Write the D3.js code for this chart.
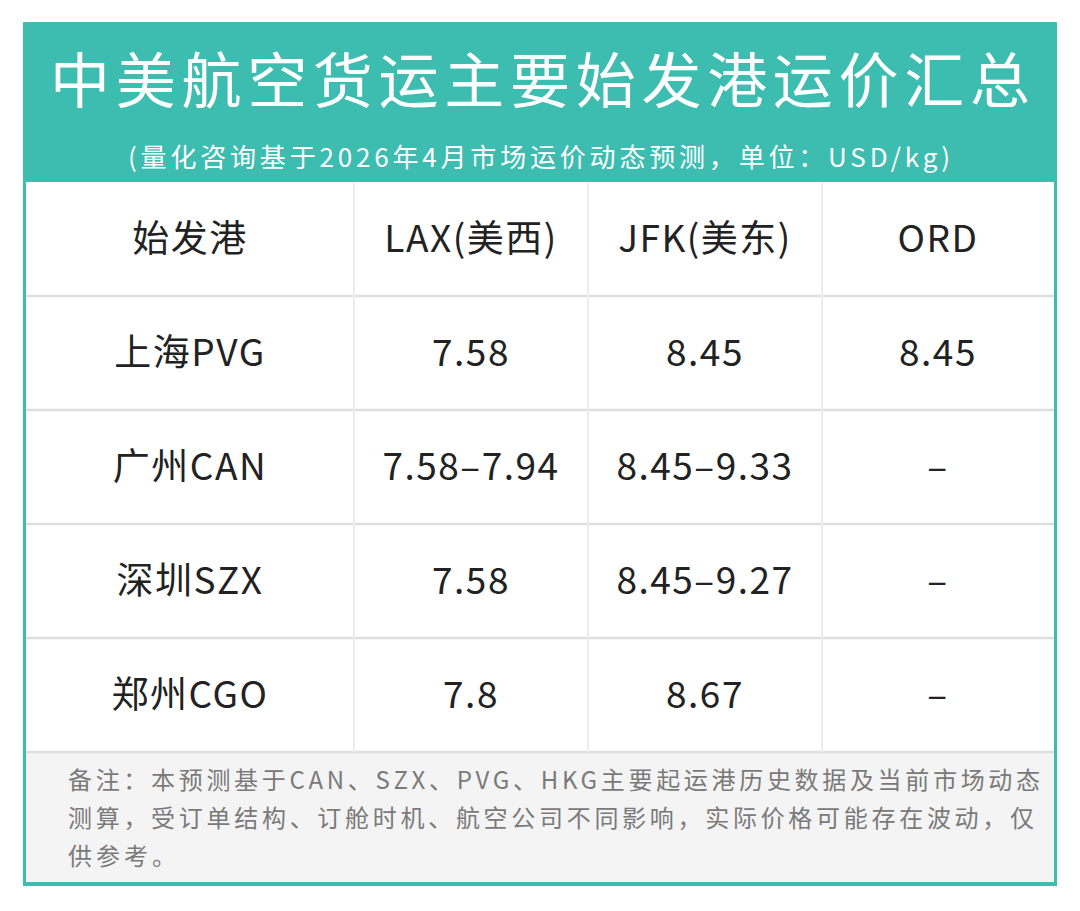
<!DOCTYPE html>
<html><head><meta charset="utf-8">
<script src="https://cdn.jsdelivr.net/npm/d3@7/dist/d3.min.js"></script>
<style>body{margin:0;background:#fff}svg{display:block}</style>
</head><body>
<script>
const title = "中美航空货运主要始发港运价汇总";
const subtitle = "(量化咨询基于2026年4月市场运价动态预测，单位：USD/kg)";
const columns = ["始发港", "LAX(美西)", "JFK(美东)", "ORD"];
const origins = ["上海PVG", "广州CAN", "深圳SZX", "郑州CGO"];
const lax = ["7.58", "7.58–7.94", "7.58", "7.8"];
const jfk = ["8.45", "8.45–9.33", "8.45–9.27", "8.67"];
const ord = ["8.45", "–", "–", "–"];
const noteLines = [
  "备注：本预测基于CAN、SZX、PVG、HKG主要起运港历史数据及当前市场动态",
  "测算，受订单结构、订舱时机、航空公司不同影响，实际价格可能存在波动，仅",
  "供参考。"
];

const W = 1080, H = 911, teal = "#3dbdb0";
const font = "'Noto Sans CJK SC','Noto Sans',sans-serif";
const L = 23, R = 1057, T = 22, B = 886, headB = 182, tableB = 752;
const svg = d3.select("body").append("svg").attr("width", W).attr("height", H);

svg.append("rect").attr("x", L).attr("y", T).attr("width", R - L).attr("height", B - T).attr("fill", teal);
svg.append("rect").attr("x", L + 3).attr("y", headB).attr("width", R - L - 6).attr("height", tableB - headB).attr("fill", "#fff");
svg.append("rect").attr("x", L + 3).attr("y", tableB).attr("width", R - L - 6).attr("height", B - 4 - tableB).attr("fill", "#f4f4f4");

svg.append("text").attr("x", 50).attr("y", 103)
  .attr("fill", "#fff").attr("font-family", font).attr("font-size", 60)
  .attr("textLength", 980).attr("lengthAdjust", "spacing").text(title);
svg.append("text").attr("x", 128).attr("y", 167)
  .attr("fill", "#fff").attr("font-family", font).attr("font-size", 26)
  .attr("textLength", 822).attr("lengthAdjust", "spacing").text(subtitle);

const colEdges = [L + 3, 354, 588, 822, R - 3];
const colCenter = i => (colEdges[i] + colEdges[i + 1]) / 2;
const rows = ["header", ...origins];
const y = d3.scaleBand().domain(rows).range([headB, tableB]);

const g = svg.append("g");
rows.forEach((r, i) => {
  const yy = y(r) + y.bandwidth();
  g.append("line").attr("x1", L + 3).attr("x2", R - 3).attr("y1", yy).attr("y2", yy)
    .attr("stroke", "#dedede").attr("stroke-width", 2.5);
});
colEdges.slice(1, 4).forEach(xx => {
  g.append("line").attr("x1", xx).attr("x2", xx).attr("y1", headB).attr("y2", tableB)
    .attr("stroke", "#ececec").attr("stroke-width", 2);
});

const table = [columns].concat(origins.map((o, i) => [o, lax[i], jfk[i], ord[i]]));
table.forEach((row, ri) => {
  row.forEach((cell, ci) => {
    g.append("text").attr("x", colCenter(ci)).attr("y", y(rows[ri]) + y.bandwidth() / 2 + 13)
      .attr("text-anchor", "middle").attr("fill", "#222").attr("font-family", font)
      .attr("font-size", 37).attr("letter-spacing", 1.5).text(cell);
  });
});

noteLines.forEach((t, i) => {
  const el = svg.append("text").attr("x", 68).attr("y", 789 + i * 38).attr("fill", "#7a7a7a")
    .attr("font-family", font).attr("font-size", 24).text(t);
  if (i < 2) el.attr("textLength", i === 0 ? 972 : 966).attr("lengthAdjust", "spacing");
  else el.attr("letter-spacing", 4);
});
</script>
</body></html>
